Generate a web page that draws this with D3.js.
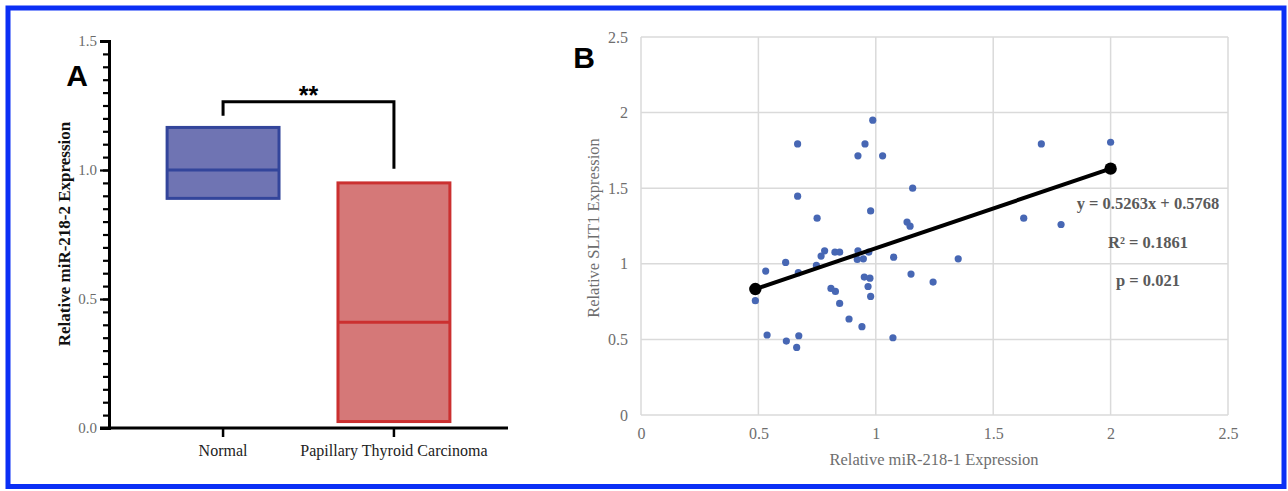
<!DOCTYPE html>
<html>
<head>
<meta charset="utf-8">
<script src="https://cdn.jsdelivr.net/npm/d3@7"></script>
<style>
  html, body { margin: 0; padding: 0; background: #ffffff; }
  svg text { font-family: "Liberation Serif", "DejaVu Serif", serif; }
</style>
</head>
<body>
<div id="chart"></div>
<script>
// panel A: box summary per group
var categories = ["Normal", "Papillary Thyroid Carcinoma"];
var boxLow = [0.89, 0.025];
var boxMedian = [1.0, 0.41];
var boxHigh = [1.165, 0.95];
var yTicksA = [0, 0.5, 1.0, 1.5];
var sigLabel = "**";
var sigBracket = [1.21, 1.265, 1.005]; // left leg end, top, right leg end

// panel B: scatter of miR-218-1 vs SLIT1
var mirX = [0.987, 0.667, 0.954, 0.924, 1.029, 1.157, 0.667, 0.978, 0.750, 1.133,
            1.146, 0.782, 0.767, 0.826, 0.846, 0.924, 0.970, 0.921, 0.947, 1.076,
            1.351, 0.616, 0.747, 0.531, 0.670, 0.951, 0.975, 1.150, 1.244, 0.809,
            0.828, 0.967, 0.978, 0.487, 0.846, 0.886, 0.941, 0.537, 0.672, 0.619,
            1.073, 0.663, 1.705, 2.000, 1.630, 1.789];
var slitY = [1.950, 1.793, 1.793, 1.714, 1.714, 1.500, 1.447, 1.350, 1.302, 1.276,
             1.249, 1.086, 1.051, 1.077, 1.077, 1.086, 1.077, 1.029, 1.033, 1.044,
             1.033, 1.009, 0.989, 0.952, 0.941, 0.912, 0.905, 0.932, 0.879, 0.837,
             0.817, 0.850, 0.784, 0.756, 0.738, 0.635, 0.584, 0.529, 0.524, 0.489,
             0.511, 0.447, 1.793, 1.804, 1.302, 1.260];
var fitSlope = 0.5263, fitIntercept = 0.5768;
var fitRange = [0.487, 2.0];
var ticksB = [0, 0.5, 1, 1.5, 2, 2.5];
var statLines = ["y = 0.5263x + 0.5768", "R\u00b2 = 0.1861", "p = 0.021"];

var W = 1288, H = 491;
var svg = d3.select("#chart").append("svg")
    .attr("width", W).attr("height", H);

svg.append("rect").attr("width", W).attr("height", H).attr("fill", "#ffffff");

// ---------- Panel A ----------
var yA = d3.scaleLinear().domain([0, 1.5]).range([428, 41]);
var xA = d3.scaleBand().domain(categories).range([109, 508])
    .paddingInner(0.345).paddingOuter(0.34);

var fillA = ["#6f74b3", "#d57878"];
var strokeA = ["#33459b", "#cb3030"];

var boxes = svg.append("g");
categories.forEach(function (c, i) {
    boxes.append("rect")
        .attr("x", xA(c))
        .attr("y", yA(boxHigh[i]))
        .attr("width", xA.bandwidth())
        .attr("height", yA(boxLow[i]) - yA(boxHigh[i]))
        .attr("fill", fillA[i])
        .attr("stroke", strokeA[i])
        .attr("stroke-width", 3);
    boxes.append("line")
        .attr("x1", xA(c)).attr("x2", xA(c) + xA.bandwidth())
        .attr("y1", yA(boxMedian[i])).attr("y2", yA(boxMedian[i]))
        .attr("stroke", strokeA[i]).attr("stroke-width", 3);
});

// y axis: minor ticks every 0.05, majors labelled
var minorAxis = svg.append("g")
    .attr("transform", "translate(109,0)")
    .call(d3.axisLeft(yA).tickValues(d3.range(0, 1.5001, 0.05)).tickSize(6).tickFormat(""));
var majorAxis = svg.append("g")
    .attr("transform", "translate(109,0)")
    .call(d3.axisLeft(yA).tickValues(yTicksA).tickSize(9).tickFormat(d3.format(".1f")).tickPadding(3));
[minorAxis, majorAxis].forEach(function (g) {
    g.select(".domain").attr("stroke", "#000").attr("stroke-width", 3);
    g.selectAll(".tick line").attr("stroke", "#000").attr("stroke-width", 2.2);
});
majorAxis.selectAll(".tick text")
    .attr("font-family", "Liberation Serif").attr("font-size", 15)
    .attr("fill", "#6a6a6a");

var xAxisA = svg.append("g")
    .attr("transform", "translate(0,428)")
    .call(d3.axisBottom(xA).tickSize(9).tickSizeOuter(0).tickPadding(8));
xAxisA.select(".domain").attr("d", "M100,0H508").attr("stroke", "#000").attr("stroke-width", 3);
xAxisA.selectAll(".tick line").attr("stroke", "#000").attr("stroke-width", 2.5);
xAxisA.selectAll(".tick text")
    .attr("font-family", "Liberation Serif").attr("font-size", 16)
    .attr("fill", "#222");

svg.append("text")
    .attr("transform", "translate(70,234) rotate(-90)")
    .attr("text-anchor", "middle")
    .attr("font-weight", "bold").attr("font-size", 17)
    .attr("fill", "#111")
    .text("Relative miR-218-2 Expression");

svg.append("text")
    .attr("x", 77).attr("y", 86)
    .attr("text-anchor", "middle")
    .style("font-family", "Liberation Sans, Arial, sans-serif")
    .attr("font-weight", "bold").attr("font-size", 30)
    .text("A");

// significance bracket
var bx0 = xA(categories[0]) + xA.bandwidth() / 2;
var bx1 = xA(categories[1]) + xA.bandwidth() / 2;
svg.append("path")
    .attr("d", "M" + bx0 + "," + yA(sigBracket[0]) + "V" + yA(sigBracket[1]) +
               "H" + bx1 + "V" + yA(sigBracket[2]))
    .attr("fill", "none").attr("stroke", "#000").attr("stroke-width", 3);
svg.append("text")
    .attr("x", (bx0 + bx1) / 2).attr("y", 104)
    .attr("text-anchor", "middle")
    .style("font-family", "Liberation Sans, Arial, sans-serif")
    .attr("font-weight", "bold").attr("font-size", 25)
    .text(sigLabel);

// ---------- Panel B ----------
var xB = d3.scaleLinear().domain([0, 2.5]).range([641, 1228]);
var yB = d3.scaleLinear().domain([0, 2.5]).range([415, 37]);

var grid = svg.append("g");
grid.selectAll(".gy").data(ticksB).enter().append("line")
    .attr("x1", xB(0)).attr("x2", xB(2.5))
    .attr("y1", function (d) { return yB(d); })
    .attr("y2", function (d) { return yB(d); })
    .attr("stroke", "#dadada").attr("stroke-width", 1.5);
grid.selectAll(".gx").data(ticksB).enter().append("line")
    .attr("y1", yB(0)).attr("y2", yB(2.5))
    .attr("x1", function (d) { return xB(d); })
    .attr("x2", function (d) { return xB(d); })
    .attr("stroke", "#dadada").attr("stroke-width", 1.5);

var xAxisB = svg.append("g")
    .attr("transform", "translate(0,415)")
    .call(d3.axisBottom(xB).tickValues(ticksB).tickSize(0).tickPadding(13).tickFormat(d3.format("")));
var yAxisB = svg.append("g")
    .attr("transform", "translate(641,0)")
    .call(d3.axisLeft(yB).tickValues(ticksB).tickSize(0).tickPadding(13).tickFormat(d3.format("")));
[xAxisB, yAxisB].forEach(function (g) {
    g.select(".domain").remove();
    g.selectAll(".tick text")
        .attr("font-family", "Liberation Serif").attr("font-size", 16)
        .attr("fill", "#6e6e6e");
});

svg.append("text")
    .attr("x", 934).attr("y", 465)
    .attr("text-anchor", "middle")
    .attr("font-size", 16.5).attr("fill", "#6e6e6e")
    .text("Relative miR-218-1 Expression");
svg.append("text")
    .attr("transform", "translate(599,228) rotate(-90)")
    .attr("text-anchor", "middle")
    .attr("font-size", 16.5).attr("fill", "#6e6e6e")
    .text("Relative SLIT1 Expression");

svg.append("text")
    .attr("x", 584).attr("y", 68)
    .attr("text-anchor", "middle")
    .style("font-family", "Liberation Sans, Arial, sans-serif")
    .attr("font-weight", "bold").attr("font-size", 30)
    .text("B");

svg.append("g").selectAll("circle")
    .data(mirX.map(function (x, i) { return [x, slitY[i]]; }))
    .enter().append("circle")
    .attr("cx", function (d) { return xB(d[0]); })
    .attr("cy", function (d) { return yB(d[1]); })
    .attr("r", 3.6)
    .attr("fill", "#4767b4");

var fitPts = fitRange.map(function (x) { return [x, fitSlope * x + fitIntercept]; });
svg.append("line")
    .attr("x1", xB(fitPts[0][0])).attr("y1", yB(fitPts[0][1]))
    .attr("x2", xB(fitPts[1][0])).attr("y2", yB(fitPts[1][1]))
    .attr("stroke", "#000").attr("stroke-width", 4);
svg.append("g").selectAll("circle")
    .data(fitPts).enter().append("circle")
    .attr("cx", function (d) { return xB(d[0]); })
    .attr("cy", function (d) { return yB(d[1]); })
    .attr("r", 6.2).attr("fill", "#000");

svg.append("g").selectAll("text")
    .data(statLines).enter().append("text")
    .attr("x", 1148)
    .attr("y", function (d, i) { return 209 + i * 38.5; })
    .attr("text-anchor", "middle")
    .attr("font-weight", "bold").attr("font-size", 16.5)
    .attr("fill", "#5a5a5a")
    .text(function (d) { return d; });

// outer blue frame
svg.append("rect")
    .attr("x", 8).attr("y", 8).attr("width", 1276).attr("height", 478.5)
    .attr("fill", "none").attr("stroke", "#0b2ff5").attr("stroke-width", 5);
</script>
</body>
</html>
